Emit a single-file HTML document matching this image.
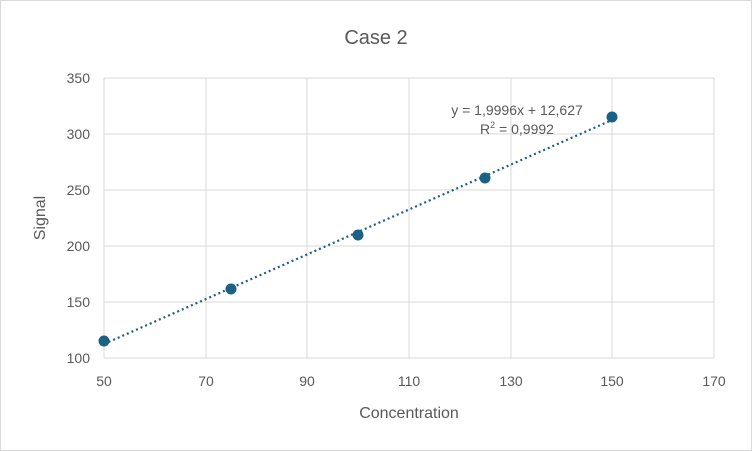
<!DOCTYPE html>
<html><head><meta charset="utf-8"><style>
html,body{margin:0;padding:0;background:#fff;}
svg{display:block;font-family:"Liberation Sans",sans-serif;}
</style></head><body>
<svg width="752" height="451" xmlns="http://www.w3.org/2000/svg">
<rect x="0.5" y="0.5" width="751" height="450" fill="#fff" stroke="#d9d9d9"/>
<text x="376" y="44" font-size="20" fill="#595959" text-anchor="middle">Case 2</text>
<g stroke="#d9d9d9" stroke-width="1">
<line x1="104" y1="78" x2="714" y2="78"/>
<line x1="104" y1="134" x2="714" y2="134"/>
<line x1="104" y1="190" x2="714" y2="190"/>
<line x1="104" y1="246" x2="714" y2="246"/>
<line x1="104" y1="302" x2="714" y2="302"/>
<line x1="104" y1="358" x2="714" y2="358"/>
<line x1="104" y1="78" x2="104" y2="358"/>
<line x1="206" y1="78" x2="206" y2="358"/>
<line x1="307" y1="78" x2="307" y2="358"/>
<line x1="409" y1="78" x2="409" y2="358"/>
<line x1="511" y1="78" x2="511" y2="358"/>
<line x1="612" y1="78" x2="612" y2="358"/>
<line x1="714" y1="78" x2="714" y2="358"/>
</g>
<g font-size="14" fill="#595959" text-anchor="end">
<text x="90" y="83">350</text><text x="90" y="139">300</text><text x="90" y="195">250</text>
<text x="90" y="251">200</text><text x="90" y="307">150</text><text x="90" y="363">100</text>
</g>
<g font-size="14" fill="#595959" text-anchor="middle">
<text x="104" y="386">50</text><text x="206" y="386">70</text><text x="307" y="386">90</text>
<text x="409" y="386">110</text><text x="511" y="386">130</text><text x="612" y="386">150</text><text x="714" y="386">170</text>
</g>
<text x="409" y="418" font-size="16" fill="#595959" text-anchor="middle">Concentration</text>
<text transform="translate(45,218) rotate(-90)" font-size="16" fill="#595959" text-anchor="middle">Signal</text>
<line x1="104" y1="344" x2="612" y2="120" stroke="#1f5f80" stroke-width="2.2" stroke-dasharray="2,3"/>
<g fill="#1a6184">
<circle cx="104" cy="341" r="5.5"/><circle cx="231" cy="289" r="5.5"/><circle cx="358" cy="235" r="5.5"/>
<circle cx="485" cy="178" r="5.5"/><circle cx="612" cy="117" r="5.5"/>
</g>
<text x="517" y="115" font-size="14" fill="#595959" text-anchor="middle">y = 1,9996x + 12,627</text>
<text x="517" y="134" font-size="14" fill="#595959" text-anchor="middle">R<tspan font-size="9" dy="-6">2</tspan><tspan dy="6"> = 0,9992</tspan></text>
</svg>
</body></html>
